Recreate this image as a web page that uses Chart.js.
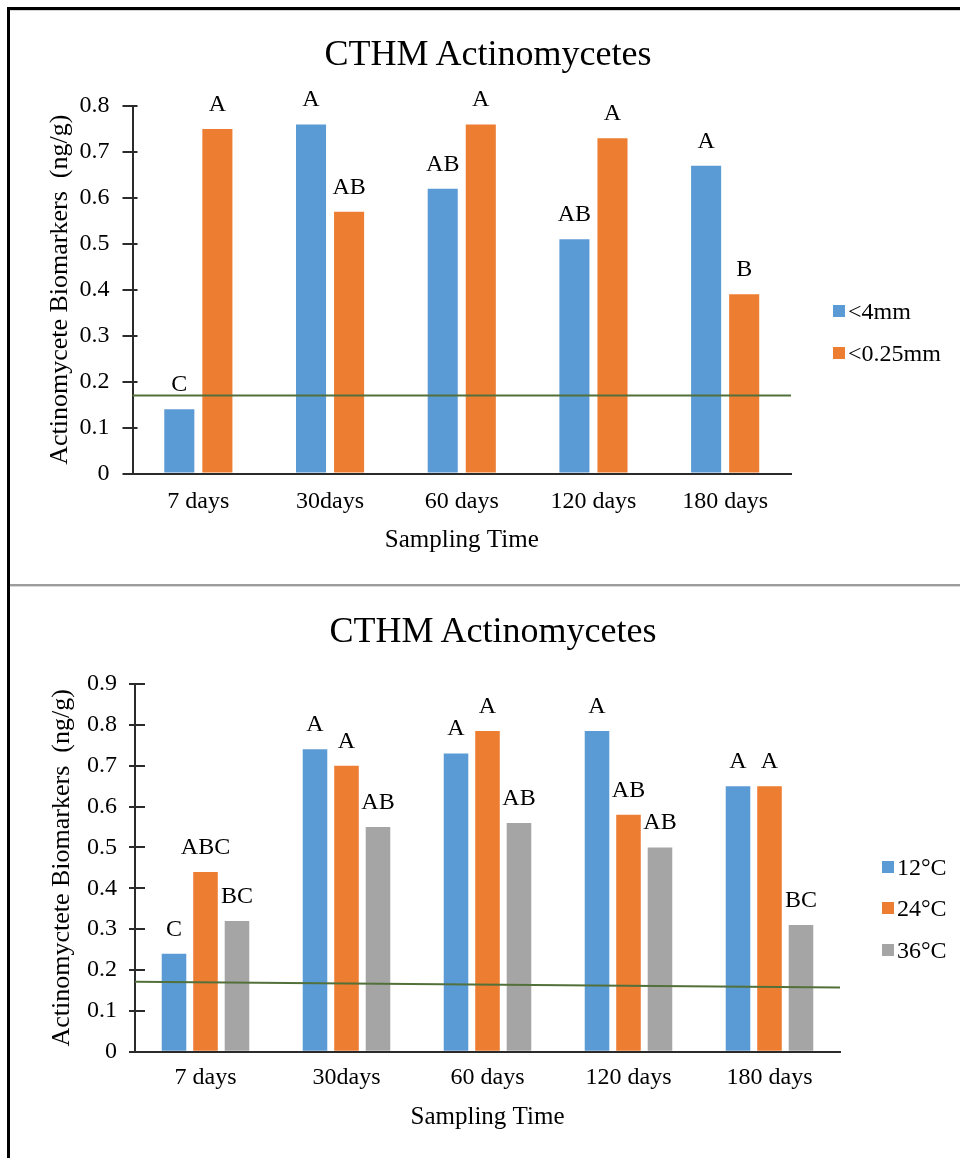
<!DOCTYPE html>
<html><head><meta charset="utf-8">
<script src="https://cdn.jsdelivr.net/npm/chart.js@4.4.0/dist/chart.umd.min.js"></script>
<style>
html,body{margin:0;padding:0;background:#fff;}
body{position:relative;width:960px;height:1158px;overflow:hidden;font-family:"Liberation Serif","Times New Roman",serif;color:#000;}
.line{position:absolute;}
.title{position:absolute;font-size:36px;line-height:36px;white-space:nowrap;transform:translateX(-50%);}
.lrow{position:absolute;display:flex;align-items:center;height:24px;font-size:24px;line-height:24px;white-space:nowrap;}
.sw{width:12px;height:12px;margin-right:3px;flex:none;}
canvas{position:absolute;}
</style></head><body>
<div class="line" style="left:7px;top:7px;width:953px;height:3px;background:#000"></div>
<div class="line" style="left:10px;top:10px;width:950px;height:1px;background:#d4d4d4"></div>
<div class="line" style="left:7px;top:7px;width:3px;height:1151px;background:#000"></div>
<div class="line" style="left:10px;top:584px;width:950px;height:2px;background:#9c9c9c"></div>
<div class="line" style="left:10px;top:586px;width:950px;height:1px;background:#d8d8d8"></div>
<canvas id="c1" width="950" height="574" style="left:10px;top:10px;width:950px;height:574px"></canvas>
<canvas id="c2" width="950" height="571" style="left:10px;top:587px;width:950px;height:571px"></canvas>
<div id="t1" class="title" style="left:488px;top:35px"></div>
<div id="t2" class="title" style="left:493px;top:612px"></div>
<div id="leg1"></div>
<div id="leg2"></div>
<script>
// ---------- data ----------
const chartTitle = 'CTHM Actinomycetes';
const categories = ['7 days', '30days', '60 days', '120 days', '180 days'];

// top chart (particle size)
const topSeriesNames = ['<4mm', '<0.25mm'];
const topCoarse = [0.14, 0.76, 0.62, 0.51, 0.67];
const topFine = [0.75, 0.57, 0.76, 0.73, 0.39];
const topCoarseLetters = ['C', 'A', 'AB', 'AB', 'A'];
const topFineLetters = ['A', 'AB', 'A', 'A', 'B'];
const topThreshold = [0.17, 0.17];           // green reference line: value at left, value at right
const topYTicks = [0, 0.1, 0.2, 0.3, 0.4, 0.5, 0.6, 0.7, 0.8];
const topYTitle = 'Actinomycete Biomarkers  (ng/g)';

// bottom chart (temperature)
const bottomSeriesNames = ['12°C', '24°C', '36°C'];
const bottom12 = [0.24, 0.74, 0.73, 0.785, 0.65];
const bottom24 = [0.44, 0.70, 0.785, 0.58, 0.65];
const bottom36 = [0.32, 0.55, 0.56, 0.50, 0.31];
const bottom12Letters = ['C', 'A', 'A', 'A', 'A'];
const bottom24Letters = ['ABC', 'A', 'A', 'AB', 'A'];
const bottom36Letters = ['BC', 'AB', 'AB', 'AB', 'BC'];
const bottomThreshold = [0.171, 0.157];
const bottomYTicks = [0, 0.1, 0.2, 0.3, 0.4, 0.5, 0.6, 0.7, 0.8, 0.9];
const bottomYTitle = 'Actinomyctete Biomarkers  (ng/g)';

const xTitle = 'Sampling Time';

// ---------- styles ----------
const FONT = '"Liberation Serif", "Times New Roman", serif';
const AXIS = '#2b2b2b';
const COLORS = ['#5B9BD5', '#ED7D31', '#A5A5A5'];
const GREEN = '#52703A';

const innerTicks = {
  id: 'innerTicks',
  afterDraw(chart, args, opts) {
    const y = chart.scales.y, ctx = chart.ctx, x0 = chart.chartArea.left;
    ctx.save();
    ctx.strokeStyle = AXIS; ctx.lineWidth = 2;
    y.ticks.forEach(t => {
      const py = Math.round(y.getPixelForValue(t.value));
      ctx.beginPath(); ctx.moveTo(x0, py); ctx.lineTo(x0 + opts.len, py); ctx.stroke();
    });
    ctx.restore();
  }
};

// green reference line, placed through the y scale
const refLine = {
  id: 'refLine',
  afterDatasetsDraw(chart, args, opts) {
    const y = chart.scales.y, ctx = chart.ctx, a = chart.chartArea;
    ctx.save();
    ctx.strokeStyle = GREEN; ctx.lineWidth = 2;
    ctx.beginPath();
    ctx.moveTo(a.left, y.getPixelForValue(opts.values[0]));
    ctx.lineTo(a.right, y.getPixelForValue(opts.values[1]));
    ctx.stroke();
    ctx.restore();
  }
};

const barLetters = {
  id: 'barLetters',
  afterDatasetsDraw(chart, args, opts) {
    const ctx = chart.ctx;
    ctx.save();
    ctx.font = '24px ' + FONT;
    ctx.fillStyle = '#000';
    ctx.textAlign = 'center';
    ctx.textBaseline = 'alphabetic';
    chart.data.datasets.forEach((ds, i) => {
      const letters = opts.letters[i];
      chart.getDatasetMeta(i).data.forEach((el, j) => {
        ctx.fillText(letters[j], el.x, el.y - 18);
      });
    });
    ctx.restore();
  }
};

function makeChart(id, cfg) {
  const datasets = cfg.series.map((s, i) => ({
    label: cfg.names[i], data: s, backgroundColor: COLORS[i], borderWidth: 0,
    categoryPercentage: cfg.cp, barPercentage: cfg.bp
  }));
  return new Chart(document.getElementById(id), {
    type: 'bar',
    data: {labels: categories, datasets},
    options: {
      responsive: false, animation: false, events: [],
      layout: {padding: cfg.pad},
      plugins: {
        legend: {display: false}, tooltip: {enabled: false}, title: {display: false},
        innerTicks: {len: cfg.innerLen},
        refLine: {values: cfg.threshold},
        barLetters: {letters: cfg.letters}
      },
      scales: {
        x: {
          type: 'category', offset: true,
          grid: {display: false, drawTicks: false, offset: true},
          border: {display: true, color: AXIS, width: 2},
          ticks: {color: '#000', font: {family: FONT, size: 24}, padding: cfg.xPad, maxRotation: 0, autoSkip: false},
          title: {display: true, text: xTitle, color: '#000', font: {family: FONT, size: 25}, padding: {top: 0, bottom: 0}},
          afterFit(s) { s.height = cfg.xH; }
        },
        y: {
          min: 0, max: cfg.yTicks[cfg.yTicks.length - 1],
          grid: {drawOnChartArea: false, drawTicks: true, tickLength: cfg.tickLen, color: AXIS, lineWidth: 2},
          border: {display: true, color: AXIS, width: 2},
          ticks: {color: '#000', font: {family: FONT, size: 24}, padding: cfg.yPad,
                  callback: v => (v === 0 ? '0' : Number(v).toFixed(1))},
          afterBuildTicks(s) { s.ticks = cfg.yTicks.map(v => ({value: v})); },
          title: {display: true, text: cfg.yTitle, color: '#000', font: {family: FONT, size: 26}, padding: {top: cfg.yTitlePad, bottom: 0}},
          afterFit(s) { s.width = cfg.yW; }
        }
      }
    },
    plugins: [innerTicks, refLine, barLetters]
  });
}

makeChart('c1', {
  names: topSeriesNames, series: [topCoarse, topFine], letters: [topCoarseLetters, topFineLetters],
  threshold: topThreshold, yTicks: topYTicks, yTitle: topYTitle,
  pad: {top: 96, right: 169, bottom: 29, left: 0},
  cp: 0.578, bp: 0.79, xPad: 14, xH: 81.5, tickLen: 10, innerLen: 5, yPad: 13, yW: 122.5, yTitlePad: 35
});
makeChart('c2', {
  names: bottomSeriesNames, series: [bottom12, bottom24, bottom36], letters: [bottom12Letters, bottom24Letters, bottom36Letters],
  threshold: bottomThreshold, yTicks: bottomYTicks, yTitle: bottomYTitle,
  pad: {top: 97, right: 120, bottom: 26, left: 0},
  cp: 0.67, bp: 0.78, xPad: 12, xH: 80.3, tickLen: 6, innerLen: 10, yPad: 12, yW: 125, yTitlePad: 37
});

// titles & legends (real text)
document.getElementById('t1').textContent = chartTitle;
document.getElementById('t2').textContent = chartTitle;
function legend(elId, names, left, centers) {
  const el = document.getElementById(elId);
  names.forEach((n, i) => {
    const row = document.createElement('div');
    row.className = 'lrow';
    row.style.left = left + 'px';
    row.style.top = (centers[i] - 12) + 'px';
    const sw = document.createElement('span');
    sw.className = 'sw'; sw.style.background = COLORS[i];
    const tx = document.createElement('span'); tx.textContent = n;
    row.appendChild(sw); row.appendChild(tx);
    el.appendChild(row);
  });
}
legend('leg1', topSeriesNames, 833, [311, 352.5]);
legend('leg2', bottomSeriesNames, 882, [866.7, 908.4, 950]);
</script>
</body></html>
